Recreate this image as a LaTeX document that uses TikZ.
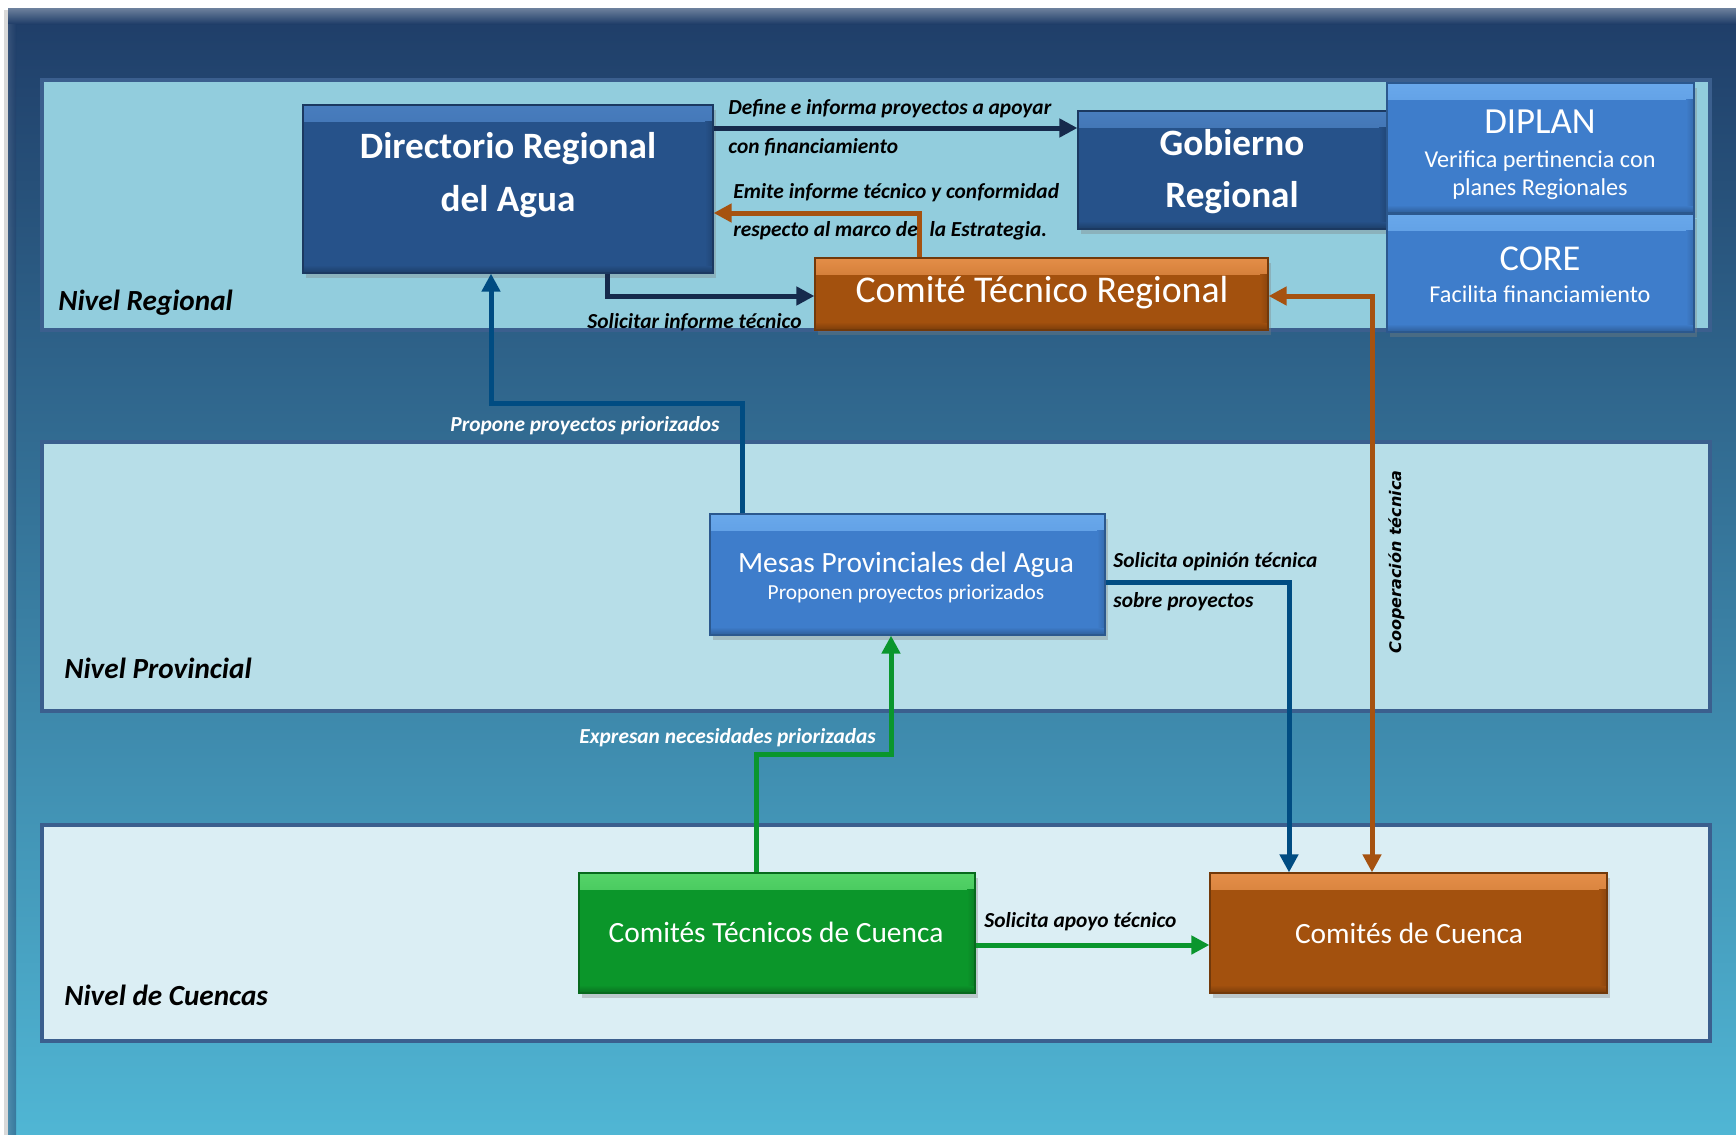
\documentclass[tikz,border=0pt]{standalone}
\usepackage{fontspec}
\setmainfont{Carlito}
\newfontfamily\dvs{DejaVu Sans}
\usetikzlibrary{arrows.meta,shadows}
\definecolor{bgtop}{RGB}{31,61,104}
\definecolor{bgbot}{RGB}{80,182,212}
\definecolor{bandline}{RGB}{59,95,142}
\definecolor{bandA}{RGB}{146,205,221}
\definecolor{bandB}{RGB}{183,222,232}
\definecolor{bandC}{RGB}{219,238,244}
\definecolor{darkbox}{RGB}{38,82,138}
\definecolor{medbox}{RGB}{62,125,203}
\definecolor{orbox}{RGB}{163,81,14}
\definecolor{grbox}{RGB}{11,150,42}
\definecolor{darkboxL}{RGB}{72,125,190}
\definecolor{medboxL}{RGB}{105,168,235}
\definecolor{orboxL}{RGB}{228,142,72}
\definecolor{grboxL}{RGB}{85,212,105}
\definecolor{navyarr}{RGB}{22,42,76}
\definecolor{bluearr}{RGB}{0,76,130}
\definecolor{orarr}{RGB}{166,82,16}
\definecolor{grarr}{RGB}{10,150,45}
\begin{document}
\begin{tikzpicture}[x=0.5pt,y=-0.5pt,
  bx/.style={rectangle, inner sep=0pt, draw=#1!70!black, line width=0.6pt, fill=#1,
    drop shadow={shadow xshift=1.5pt, shadow yshift=-2.5pt, opacity=0.35},
    path picture={\shade[top color=#1L, bottom color=#1] (path picture bounding box.north west) rectangle ([yshift=-8pt]path picture bounding box.north east);
                  \shade[top color=#1, bottom color=#1!75!black] ([yshift=4pt]path picture bounding box.south west) rectangle (path picture bounding box.south east);
                  \shade[left color=#1, right color=#1!85!black] ([xshift=-4pt,yshift=-8pt]path picture bounding box.north east) rectangle ([yshift=4pt]path picture bounding box.south east);}},
  band/.style={draw=bandline, line width=2pt, fill=#1},
  arr/.style={line width=2.5pt, -{Triangle[length=9pt,width=9pt]}},
  darr/.style={line width=2.5pt, {Triangle[length=9pt,width=9pt]}-{Triangle[length=9pt,width=9pt]}},
  tx/.style={inner sep=0pt, anchor=base, text=white},
  lab/.style={inner sep=0pt, anchor=base west, font=\fontsize{10.7}{12}\selectfont\bfseries\itshape},
  lvl/.style={inner sep=0pt, anchor=base west, font=\fontsize{14.6}{16}\selectfont\bfseries\itshape}]
\useasboundingbox (0,0) rectangle (1736,1135);
\fill[white] (0,0) rectangle (1736,1135);
\fill[black,opacity=0.15] (4,10) rectangle (1736,1135);
\shade[top color=bgtop, bottom color=bgbot] (8,8) rectangle (1736,1135);
\shade[top color=bgtop!65!white, bottom color=bgtop] (8,8) rectangle (1736,24);
\shade[left color=bgtop!80!white, right color=bgtop, opacity=0.5] (8,24) rectangle (16,1135);

% bands
\draw[band=bandA] (42,80) rectangle (1710,330);
\draw[band=bandB] (42,442) rectangle (1710,711);
\draw[band=bandC] (42,825) rectangle (1710,1041);
\node[lvl] (lvA) at (58,310) {Nivel Regional};
\node[lvl] (lvB) at (64,678) {Nivel Provincial};
\node[lvl] (lvC) at (64,1005) {Nivel de Cuencas};

% boxes
\node[bx=darkbox, minimum width=205pt, minimum height=84pt] (dir) at (508,189) {};
\node[bx=darkbox, minimum width=154.5pt, minimum height=59pt] (gob) at (1232.5,170) {};
\node[bx=medbox, minimum width=153.5pt, minimum height=65pt] (dip) at (1540.5,148) {};
\node[bx=medbox, minimum width=153.5pt, minimum height=59pt] (core) at (1540.5,273) {};
\node[bx=orbox, minimum width=226.5pt, minimum height=36pt] (ctr) at (1041.5,294) {};
\node[bx=medbox, minimum width=197.5pt, minimum height=60.5pt] (mesas) at (907.5,574.5) {};
\node[bx=grbox, minimum width=198pt, minimum height=60pt] (ctc) at (777,933) {};
\node[bx=orbox, minimum width=198.5pt, minimum height=60pt] (cdc) at (1408.5,933) {};

% box texts
\node[tx, font=\fontsize{18.6}{20}\selectfont\bfseries] (dirA) at (508,158) {Directorio Regional};
\node[tx, font=\fontsize{18.6}{20}\selectfont\bfseries] (dirB) at (508,211) {del Agua};
\node[tx, font=\fontsize{18.6}{20}\selectfont\bfseries] (gobA) at (1232,155) {Gobierno};
\node[tx, font=\fontsize{18.6}{20}\selectfont\bfseries] (gobB) at (1232,207) {Regional};
\node[tx, font=\fontsize{18.4}{20}\selectfont] (dipA) at (1540,133) {DIPLAN};
\node[tx, font=\fontsize{12.1}{13}\selectfont] (dipB) at (1540,167) {Verifica pertinencia con};
\node[tx, font=\fontsize{12.1}{13}\selectfont] (dipC) at (1540,195) {planes Regionales};
\node[tx, font=\fontsize{18.2}{20}\selectfont] (coreA) at (1540,270) {CORE};
\node[tx, font=\fontsize{12.1}{13}\selectfont] (coreB) at (1540,302) {Facilita financiamiento};
\node[tx, font=\fontsize{18.9}{20}\selectfont] (ctrA) at (1042,302) {Comité Técnico Regional};
\node[tx, font=\fontsize{14.7}{17}\selectfont] (mesA) at (906,572) {Mesas Provinciales del Agua};
\node[tx, font=\fontsize{10.7}{12}\selectfont] (mesB) at (906,599) {Proponen proyectos priorizados};
\node[tx, font=\fontsize{14.7}{17}\selectfont] (ctcA) at (776,942) {Comités Técnicos de Cuenca};
\node[tx, font=\fontsize{14.7}{17}\selectfont] (cdcA) at (1409,943) {Comités de Cuenca};

% connectors
\draw[arr, navyarr] (dir.east |- 0,128) -- (gob.west |- 0,128);
\draw[arr, orarr] (ctr.north -| 919,0) |- (dir.east |- 0,213);
\draw[arr, navyarr] (dir.south -| 607,0) |- (ctr.west |- 0,296);
\draw[arr, bluearr] (mesas.north -| 742,0) -- (742,403) -| (dir.south -| 491,0);
\draw[arr, bluearr] (mesas.east |- 0,582) -| (cdc.north -| 1289,0);
\draw[darr, orarr] (ctr.east |- 0,296) -| (cdc.north -| 1372,0);
\draw[arr, grarr] (ctc.north -| 756,0) -- (756,754) -| (mesas.south -| 891,0);
\draw[arr, grarr] (ctc.east |- 0,945) -- (cdc.west |- 0,945);

% connector labels
\node[lab] (l1a) at (728,114) {Define e informa proyectos a apoyar};
\node[lab] (l1b) at (728,153) {con financiamiento};
\node[lab] (l2a) at (733,198) {Emite informe técnico y conformidad};
\node[lab] (l2b) at (733,236) {respecto al marco de\hspace{0.55em}la Estrategia.};
\node[lab] (l3) at (587,328) {Solicitar informe técnico};
\node[lab, anchor=base east, text=white] (l4) at (720,431) {Propone proyectos priorizados};
\node[lab] (l5a) at (1113,567) {Solicita opinión técnica};
\node[lab] (l5b) at (1113,607) {sobre proyectos};
\node[inner sep=0pt, rotate=90, font=\dvs\fontsize{8}{9}\selectfont\bfseries\itshape] (l6) at (1397,562) {Cooperación técnica};
\node[lab, text=white] (l7) at (579,743) {Expresan necesidades priorizadas};
\node[lab] (l8) at (984,927) {Solicita apoyo técnico};
\end{tikzpicture}
\end{document}
